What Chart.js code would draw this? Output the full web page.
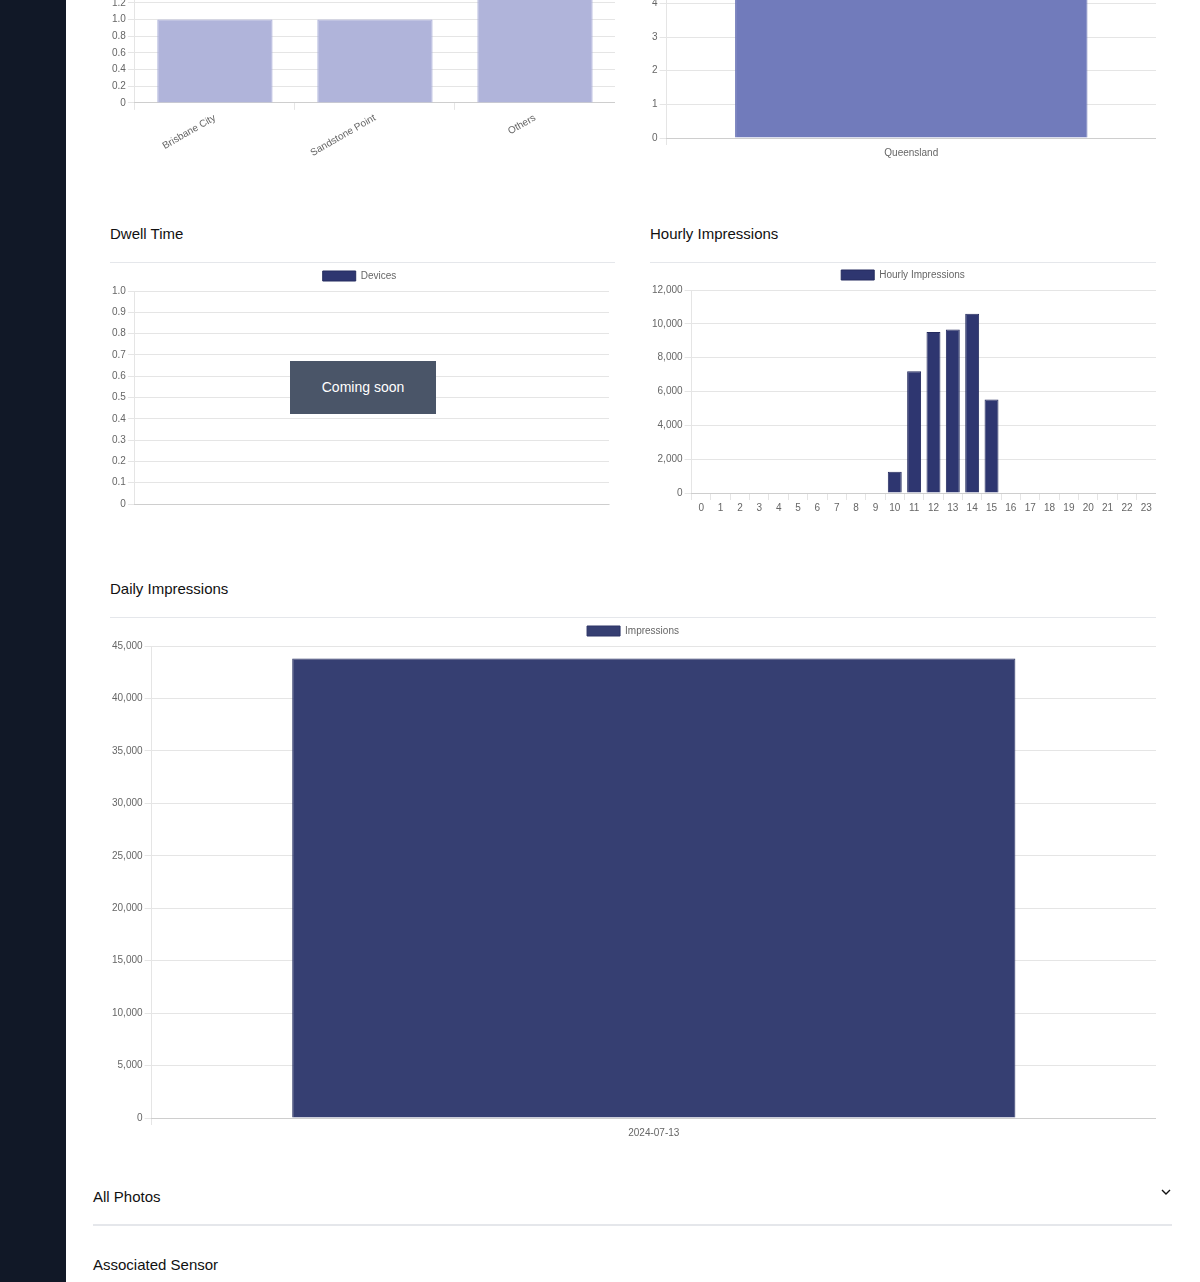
<!DOCTYPE html>
<html>
<head>
<meta charset="utf-8">
<script src="https://cdn.jsdelivr.net/npm/chart.js@4.4.1/dist/chart.umd.min.js"></script>
<style>
  html, body { margin: 0; padding: 0; }
  body {
    width: 1200px; height: 1282px; overflow: hidden; position: relative;
    background: #fff; font-family: "Helvetica Neue", Helvetica, Arial, "Liberation Sans", sans-serif; color: #111;
  }
  .sidebar { position: absolute; left: 0; top: 0; width: 66px; height: 1282px; background: #111827; }
  .title { position: absolute; font-size: 15px; font-weight: 500; line-height: 18px; }
  .rule { position: absolute; height: 1px; background: #e5e7eb; }
  .box { position: absolute; }
  .soon {
    position: absolute; left: 290px; top: 361px; width: 146px; height: 53px;
    background: #4a5568; color: #fff; font-size: 14px; line-height: 53px; text-align: center;
  }
  .acc { position: absolute; left: 93px; font-size: 15px; line-height: 18px; }
  .chev { position: absolute; left: 1160px; top: 1187px; }
</style>
</head>
<body>
<div class="sidebar"></div>

<div class="box" style="left:110px; top:-90px; width:505px; height:251px;"><canvas id="suburbChart"></canvas></div>
<div class="box" style="left:650px; top:-90px; width:506px; height:251px;"><canvas id="stateChart"></canvas></div>

<div class="title" style="left:110px; top:225px;">Dwell Time</div>
<div class="rule" style="left:110px; top:262px; width:505px;"></div>
<div class="box" style="left:110px; top:265px; width:505px; height:247px;"><canvas id="dwellChart"></canvas></div>
<div class="soon">Coming soon</div>

<div class="title" style="left:650px; top:225px;">Hourly Impressions</div>
<div class="rule" style="left:650px; top:262px; width:506px;"></div>
<div class="box" style="left:650px; top:264px; width:506px; height:252px;"><canvas id="hourlyChart"></canvas></div>

<div class="title" style="left:110px; top:580px;">Daily Impressions</div>
<div class="rule" style="left:110px; top:617px; width:1046px;"></div>
<div class="box" style="left:110px; top:620px; width:1046px; height:521px;"><canvas id="dailyChart"></canvas></div>

<div class="acc" style="top:1188px;">All Photos</div>
<svg class="chev" width="12" height="10" viewBox="0 0 12 10"><polyline points="2,3 6,7 10,3" fill="none" stroke="#111" stroke-width="1.4"/></svg>
<div class="rule" style="left:93px; top:1224px; width:1079px; height:2px;"></div>
<div class="acc" style="top:1256px;">Associated Sensor</div>

<script>
const suburbLabels = ["Brisbane City", "Sandstone Point", "Others"];
const suburbValues = [1, 1, 2];

const stateLabels = ["Queensland"];
const stateValues = [6];

const dwellLabels = [];
const dwellValues = [];

const hourLabels = ["0","1","2","3","4","5","6","7","8","9","10","11","12","13","14","15","16","17","18","19","20","21","22","23"];
const hourlyValues = [0,0,0,0,0,0,0,0,0,0,1260,7200,9510,9670,10600,5530,0,0,0,0,0,0,0,0];

const dayLabels = ["2024-07-13"];
const dailyValues = [43800];

Chart.defaults.font.family = "Helvetica, Arial, 'Liberation Sans', sans-serif";
Chart.defaults.font.size = 10;
Chart.defaults.color = "#666";

function opts(rotate, padRight) {
  return {
    responsive: true,
    maintainAspectRatio: false,
    animation: false,
    layout: { padding: { right: padRight || 0 } },
    plugins: {
      legend: {
        display: true,
        labels: { boxWidth: 33, boxHeight: 10, padding: 6 },
      },
      tooltip: { enabled: false },
    },
    scales: {
      x: {
        grid: { drawOnChartArea: false, tickLength: 7 },
        ticks: rotate
          ? { maxRotation: 30, minRotation: 30, padding: 2 }
          : { autoSkip: false, maxRotation: 0, padding: 2 },
      },
      y: {
        beginAtZero: true,
        grid: { tickLength: 7 },
        ticks: { padding: 2 },
      },
    },
  };
}

new Chart(document.getElementById("suburbChart").getContext("2d"), {
  type: "bar",
  data: {
    labels: suburbLabels,
    datasets: [{
      label: "Suburbs",
      data: suburbValues,
      backgroundColor: "#b0b4da",
      borderColor: "#a3a8d6",
      borderWidth: 1,
    }],
  },
  options: opts(true),
});

new Chart(document.getElementById("stateChart").getContext("2d"), {
  type: "bar",
  data: {
    labels: stateLabels,
    datasets: [{
      label: "States",
      data: stateValues,
      backgroundColor: "#717bbb",
      borderColor: "#6a74b6",
      borderWidth: 1,
    }],
  },
  options: opts(false),
});

new Chart(document.getElementById("dwellChart").getContext("2d"), {
  type: "bar",
  data: {
    labels: dwellLabels,
    datasets: [{
      label: "Devices",
      data: dwellValues,
      backgroundColor: "#2e3670",
      borderColor: "#252c60",
      borderWidth: 1,
    }],
  },
  options: opts(false, 6),
});

new Chart(document.getElementById("hourlyChart").getContext("2d"), {
  type: "bar",
  data: {
    labels: hourLabels,
    datasets: [{
      label: "Hourly Impressions",
      data: hourlyValues,
      backgroundColor: "#2e3670",
      borderColor: "#242b5e",
      borderWidth: 1,
    }],
  },
  options: opts(false),
});

new Chart(document.getElementById("dailyChart").getContext("2d"), {
  type: "bar",
  data: {
    labels: dayLabels,
    datasets: [{
      label: "Impressions",
      data: dailyValues,
      backgroundColor: "#363f72",
      borderColor: "#2c3466",
      borderWidth: 1,
    }],
  },
  options: opts(false),
});
</script>
</body>
</html>
